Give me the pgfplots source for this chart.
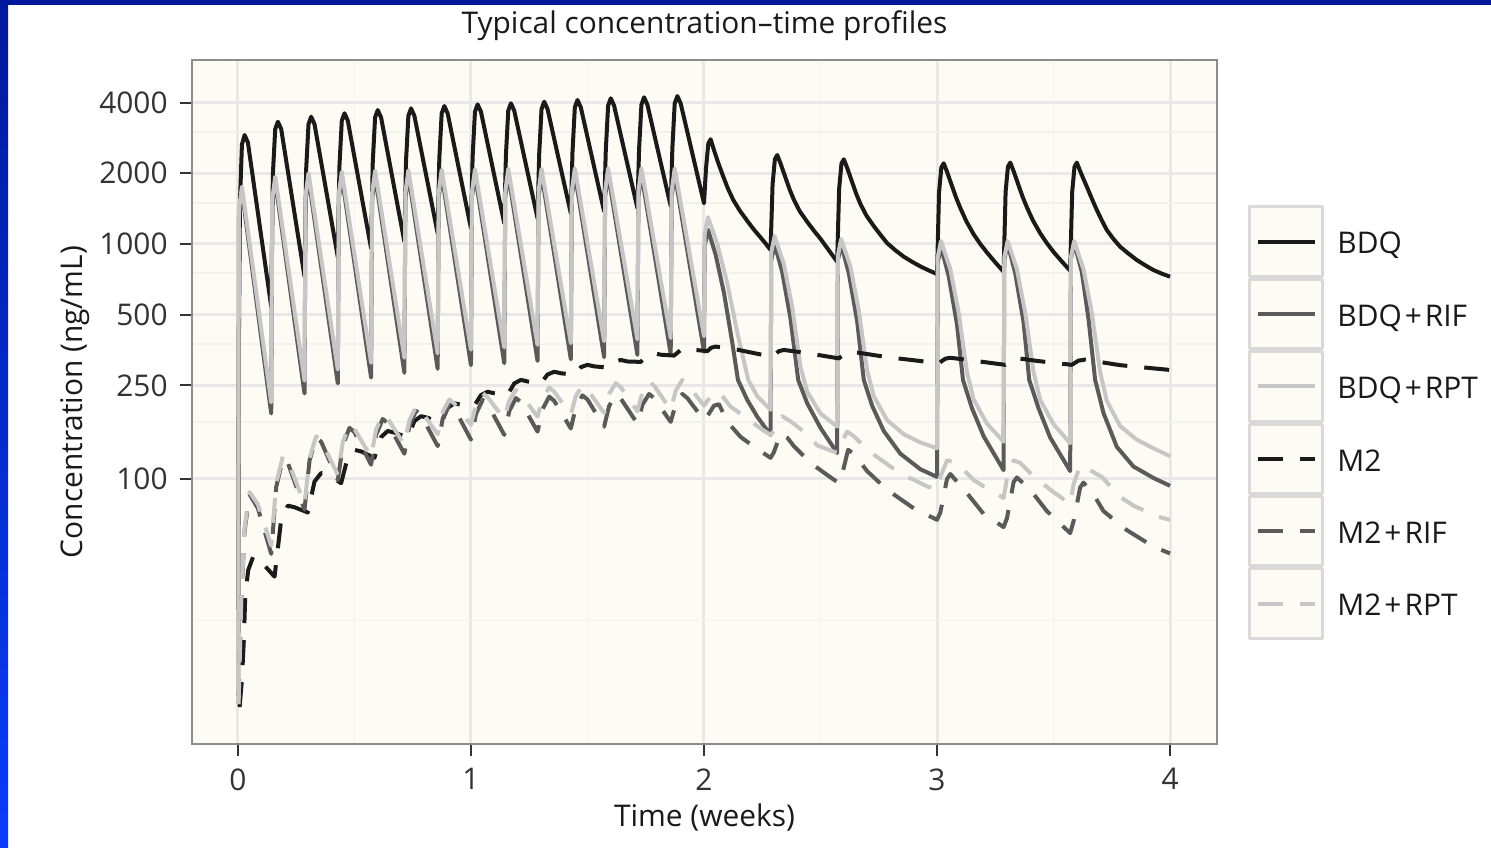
\documentclass[border=0pt]{standalone}
\usepackage{fontspec}
\setmainfont{Open Sans}
\usepackage{pgfplots}
\pgfplotsset{compat=1.18}

\definecolor{plotbg}{HTML}{FCFCF5}
\definecolor{gridmaj}{HTML}{E8E8E8}
\definecolor{gridmin}{HTML}{F1F1EE}
\definecolor{framec}{HTML}{8C8C8C}
\definecolor{tickc}{HTML}{333333}
\definecolor{c1}{HTML}{1A1A1A}
\definecolor{c2}{HTML}{5A5A5A}
\definecolor{c3}{HTML}{C6C6C6}
\definecolor{keyedge}{HTML}{D9D9D9}
\definecolor{navy}{HTML}{00199C}
\definecolor{brightblue}{HTML}{0A3CFA}

\begin{document}
\begin{tikzpicture}[font=\fontsize{8.5}{10}\selectfont]
\useasboundingbox (0,0) rectangle (14.91,8.48);
\fill[white] (0,0) rectangle (14.91,8.48);
\shade[top color=navy, bottom color=brightblue] (0,0) rectangle (0.08,8.48);
\fill[navy] (0,8.43) rectangle (14.91,8.48);
\node[text=c1, anchor=center] at (7.045,8.22) {Typical concentration--time profiles};
\begin{axis}[
  at={(1.92cm,1.04cm)}, anchor=south west,
  scale only axis, width=10.25cm, height=6.84cm,
  xmin=-1.38, xmax=29.41,
  ymode=log, ymin=7.45, ymax=6067,
  xtick={0,7,14,21,28}, xticklabels={0,1,2,3,4},
  minor xtick={3.5,10.5,17.5,24.5},
  ytick={100,250,500,1000,2000,4000},
  yticklabels={100,250,500,1000,2000,4000},
  minor ytick={25,175,375,750,1500,3000},
  grid=both,
  major grid style={gridmaj, line width=0.3mm},
  minor grid style={gridmin, line width=0.18mm},
  axis background/.style={fill=plotbg},
  axis line style={framec, line width=0.2mm},
  tick align=outside, xtick pos=left, ytick pos=left,
  major tick length=1.2mm, minor tick length=0pt,
  tick style={tickc, line width=0.2mm},
  ticklabel style={text=tickc},
  xlabel={Time (weeks)},
  xlabel style={at={(axis description cs:0.5,-0.1082)}, anchor=center, text=c1},
  ylabel={Concentration (ng/mL)},
  ylabel style={at={(axis description cs:-0.1141,0.5)}, anchor=center, text=c1},
  legend style={at={(axis description cs:1.0307,0.7873)}, anchor=north west,
    draw=none, fill=none, inner sep=0pt, outer sep=0pt, row sep=0pt,
    column sep=1.3mm, nodes={inner sep=0pt, text=c1, yshift=-0.4mm}},
  legend cell align=left,
  legend image code/.code={
    \draw[draw=keyedge, fill=plotbg, line width=0.3mm, solid] (0mm,-3.47mm) rectangle (7.3mm,3.47mm);
    \draw[#1] (0.8mm,0mm) -- (6.5mm,0mm);
  },
  every axis plot/.append style={line width=0.4mm, line join=round},
]

% BDQ
\addplot[c1] coordinates {
(0.005,12)(0.03,400)(0.06,1500)(0.12,2650)(0.2,2910)(0.3,2700)(1,541)
(1.05,1988)(1.12,3082)(1.2,3314)(1.3,3082)(2,726)
(2.05,2088)(2.12,3236)(2.2,3480)(2.3,3236)(3,880)
(3.05,2160)(3.12,3348)(3.2,3600)(3.3,3348)(4,958)
(4.05,2229)(4.12,3455)(4.2,3715)(4.3,3455)(5,1023)
(5.05,2266)(5.12,3512)(5.2,3776)(5.3,3512)(6,1110)
(6.05,2320)(6.12,3595)(6.2,3866)(6.3,3595)(7,1166)
(7.05,2358)(7.12,3655)(7.2,3930)(7.3,3655)(8,1225)
(8.05,2382)(8.12,3692)(8.2,3970)(8.3,3692)(9,1286)
(9.05,2420)(9.12,3751)(9.2,4033)(9.3,3751)(10,1350)
(10.05,2460)(10.12,3813)(10.2,4100)(10.3,3813)(11,1375)
(11.05,2502)(11.12,3878)(11.2,4170)(11.3,3878)(12,1420)
(12.05,2526)(12.12,3915)(12.2,4210)(12.3,3915)(13,1450)
(13.05,2556)(13.12,3962)(13.2,4260)(13.3,3962)(14,1490)
(14.06,2093)(14.13,2680)(14.2,2790)(14.3,2510)(14.42,2230)(14.58,1934)(14.72,1720)(14.88,1539)(15.07,1390)(15.28,1265)(15.48,1160)(15.68,1074)(15.85,1005)(16,943)
(16.06,1793)(16.13,2295)(16.2,2391)(16.3,2200)(16.45,1913)(16.57,1710)(16.7,1542)(16.88,1375)(17.1,1243)(17.3,1140)(17.5,1052)(17.75,940)(18,841)
(18.06,1720)(18.13,2201)(18.2,2293)(18.3,2110)(18.45,1834)(18.57,1640)(18.7,1479)(18.88,1320)(19.1,1192)(19.3,1095)(19.5,1009)(19.75,940)(20,883)(20.25,840)(20.5,803)(20.75,772)(21,745)
(21.06,1654)(21.13,2117)(21.2,2205)(21.3,2029)(21.45,1764)(21.57,1580)(21.7,1422)(21.88,1250)(22.1,1100)(22.3,1000)(22.5,920)(22.75,835)(23,762)
(23.06,1665)(23.13,2131)(23.2,2220)(23.3,2042)(23.45,1776)(23.57,1590)(23.7,1432)(23.88,1260)(24.1,1110)(24.3,1008)(24.5,925)(24.75,842)(25,770)
(25.06,1665)(25.13,2131)(25.2,2220)(25.3,2042)(25.4,1890)(25.5,1753)(25.65,1560)(25.8,1395)(25.95,1260)(26.1,1147)(26.3,1050)(26.5,974)(26.75,910)(27,855)(27.25,812)(27.5,775)(27.75,748)(28,726)
};
\addlegendentry{BDQ}

% BDQ + RIF
\addplot[c2] coordinates {
(0.005,12)(0.03,1300)(0.12,1680)(1,190)
(1.03,1480)(1.12,1850)(2,231)
(2.03,1528)(2.12,1910)(3,255)
(3.03,1552)(3.12,1940)(4,270)
(4.03,1560)(4.12,1950)(5,283)
(5.03,1568)(5.12,1960)(6,294)
(6.03,1576)(6.12,1970)(7,305)
(7.03,1580)(7.12,1975)(8,311)
(8.03,1584)(8.12,1980)(9,318)
(9.03,1588)(9.12,1985)(10,323)
(10.03,1592)(10.12,1990)(11,330)
(11.03,1592)(11.12,1990)(12,337)
(12.03,1592)(12.12,1990)(13,340)
(13.03,1592)(13.12,1990)(14,348)
(14.02,980)(14.12,1150)(14.35,900)(14.6,620)(14.85,380)(15.02,264)(15.3,217)(15.6,184)(16,154)
(16.02,850)(16.12,1000)(16.35,760)(16.6,480)(16.83,264)(17.1,210)(17.5,165)(18,129)
(18.02,850)(18.12,1000)(18.35,750)(18.6,470)(18.8,264)(19.05,205)(19.4,160)(19.9,128)(20.5,110)(21,102)
(21.02,830)(21.12,975)(21.35,730)(21.6,455)(21.78,264)(22.05,200)(22.4,152)(23,109)
(23.02,855)(23.12,1005)(23.35,750)(23.6,465)(23.77,264)(24.05,200)(24.4,150)(25,108)
(25.02,860)(25.12,1010)(25.35,760)(25.55,480)(25.75,264)(26,191)(26.4,137)(26.9,113)(27.5,101)(28,93.5)
};
\addlegendentry{BDQ\kern0.1em+\kern0.1em RIF}

% BDQ + RPT
\addplot[c3] coordinates {
(0.005,12)(0.03,1400)(0.12,1753)(1,212)
(1.03,1547)(1.12,1934)(2,262)
(2.03,1600)(2.12,2000)(3,292)
(3.03,1624)(3.12,2030)(4,312)
(4.03,1640)(4.12,2050)(5,328)
(5.03,1648)(5.12,2060)(6,342)
(6.03,1656)(6.12,2070)(7,355)
(7.03,1664)(7.12,2080)(8,363)
(8.03,1672)(8.12,2090)(9,372)
(9.03,1672)(9.12,2090)(10,378)
(10.03,1680)(10.12,2100)(11,386)
(11.03,1680)(11.12,2100)(12,393)
(12.03,1680)(12.12,2100)(13,398)
(13.03,1680)(13.12,2100)(14,405)
(14.02,1100)(14.12,1300)(14.4,1000)(14.7,680)(15,420)(15.33,264)(15.6,225)(16,197)
(16.02,920)(16.12,1080)(16.4,820)(16.65,540)(16.9,300)(17.1,235)(17.5,190)(18,167)
(18.02,890)(18.12,1050)(18.4,800)(18.65,520)(18.9,290)(19.1,225)(19.5,178)(20,155)(20.5,143)(21,135)
(21.02,875)(21.12,1030)(21.4,780)(21.65,510)(21.9,285)(22.1,218)(22.5,172)(23,144)
(23.02,875)(23.12,1030)(23.4,780)(23.65,510)(23.9,285)(24.1,217)(24.5,171)(25,142)
(25.02,875)(25.12,1030)(25.4,780)(25.65,510)(25.9,285)(26.1,215)(26.5,168)(27,147)(27.5,135)(28,125)
};
\addlegendentry{BDQ\kern0.1em+\kern0.1em RPT}

% M2
\addplot[c1, dash pattern=on 2.5mm off 1.7mm] coordinates {
(0.05,10.7)(0.12,14)(0.18,21)(0.22,32)(0.31,41)(0.46,46.8)(0.66,45)(1.1,38.4)
(1.3,67.4)(1.5,77)(1.7,75.8)(2.1,72)
(2.3,97.5)(2.5,106)(2.7,104.4)(3.1,96)
(3.3,123.8)(3.5,133)(3.7,131)(4.1,123)
(4.3,150.8)(4.5,160)(4.7,157.6)(5.1,150)
(5.3,176.3)(5.5,185)(5.7,182.2)(6.1,172)
(6.3,200.5)(6.5,210)(6.7,206.9)(7.1,205)
(7.3,227.5)(7.5,235)(7.7,231.5)(8.1,228)
(8.3,255)(8.5,264)(8.7,260)(9.1,255)
(9.3,278.3)(9.5,286)(9.7,281.7)(10.1,278)
(10.3,299)(10.5,306)(10.7,301.4)(11.1,298)
(11.3,315.3)(11.5,321)(11.7,316.2)(12.1,315)
(12.3,336)(12.5,343)(12.7,337.9)(13.1,335)
(13.3,353.8)(13.5,360)(13.7,354.6)(14.1,350)
(14.22,362)(14.35,366)(15,355)(16.05,331)(16.25,350)(16.4,354)(17,345)(18.05,326)
(18.25,344)(18.45,348)(19.5,330)(21.05,311)(21.25,325)(21.4,328)(22,320)(23.05,306)
(23.25,322)(23.45,326)(24,318)(25.05,306)(25.25,319)(25.45,322)(26.5,305)(28,291)
};
\addlegendentry{M2}

% M2 + RIF
\addplot[c2, dash pattern=on 2.5mm off 1.7mm] coordinates {
(0.02,11)(0.1,30)(0.2,60)(0.35,86)(0.6,75)(1,48)
(1.15,92.4)(1.35,122)(1.5,117)(2,74)
(2.15,119.6)(2.35,150)(2.5,144)(3,99)
(3.15,138.6)(3.35,165)(3.5,158.4)(4,115)
(4.15,154)(4.35,180)(4.5,172.8)(5,128)
(5.15,168.2)(5.35,195)(5.5,187.2)(6,138)
(6.15,180)(6.35,208)(6.5,199.7)(7,147)
(7.15,189)(7.35,217)(7.5,208.3)(8,154)
(8.15,194.2)(8.35,221)(8.5,212.2)(9,159)
(9.15,198)(9.35,224)(9.5,215)(10,164)
(10.15,201.8)(10.35,227)(10.5,217.9)(11,167)
(11.15,204.2)(11.35,229)(11.5,219.8)(12,172)
(12.15,206.8)(12.35,230)(12.5,220.8)(13,175)
(13.15,208)(13.35,230)(13.5,220.8)(14,178)
(14.1,185)(14.3,205)(14.45,208)(14.7,175)(15.1,151)(15.6,134)(16,123)
(16.1,130)(16.3,156)(16.5,150)(16.7,138)(17.2,117)(17.7,104)(18.05,96)
(18.15,105)(18.33,133)(18.5,128)(18.9,108)(19.5,90)(20.3,75)(21,67)
(21.1,72)(21.3,100)(21.4,105)(21.9,87)(22.4,71)(23,62.4)
(23.1,68)(23.3,97)(23.4,101.5)(23.8,90)(24.3,73)(25,58.8)
(25.1,66)(25.3,92)(25.4,96.5)(25.7,86)(26,73)(26.7,60.6)(27.5,51.5)(28,48.2)
};
\addlegendentry{M2\kern0.1em+\kern0.1em RIF}

% M2 + RPT
\addplot[c3, dash pattern=on 2.5mm off 1.7mm] coordinates {
(0.02,11)(0.1,31)(0.2,62)(0.35,88)(0.6,78)(1,52)
(1.15,95.8)(1.35,125)(1.5,120)(2,78)
(2.15,122.4)(2.35,152)(2.5,145.9)(3,104)
(3.15,143.6)(3.35,170)(3.5,163.2)(4,124)
(4.15,162.4)(4.35,188)(4.5,180.5)(5,140)
(5.15,177.8)(5.35,203)(5.5,194.9)(6,155)
(6.15,192.8)(6.35,218)(6.5,209.3)(7,170)
(7.15,207.2)(7.35,232)(7.5,222.7)(8,180)
(8.15,215.4)(8.35,239)(8.5,229.4)(9,184)
(9.15,220.6)(9.35,245)(9.5,235.2)(10,188)
(10.15,225.2)(10.35,250)(10.5,240)(11,191)
(11.15,230)(11.35,256)(11.5,245.8)(12,194)
(12.15,233.6)(12.35,260)(12.5,249.6)(13,197)
(13.15,237.2)(13.35,264)(13.5,253.4)(14,205)
(14.1,215)(14.35,235)(14.5,230)(14.8,203)(15.3,181)(15.7,164)(16,154)
(16.1,160)(16.35,185)(16.6,176)(17.05,157)(17.4,139)(18,129)
(18.1,140)(18.3,159)(18.5,152)(19,130)(19.6,113)(20,104)(20.7,93)(21,90)
(21.1,102)(21.3,120)(21.6,117)(22.1,99)(22.4,93)(23,83)
(23.1,100)(23.3,120)(23.5,117)(23.8,106)(24.4,90)(24.7,84)(25,78)
(25.1,95)(25.3,114)(25.5,111)(25.95,102)(26.5,84)(26.9,77)(27.65,69)(28,67)
};
\addlegendentry{M2\kern0.1em+\kern0.1em RPT}

\end{axis}
\end{tikzpicture}
\end{document}
